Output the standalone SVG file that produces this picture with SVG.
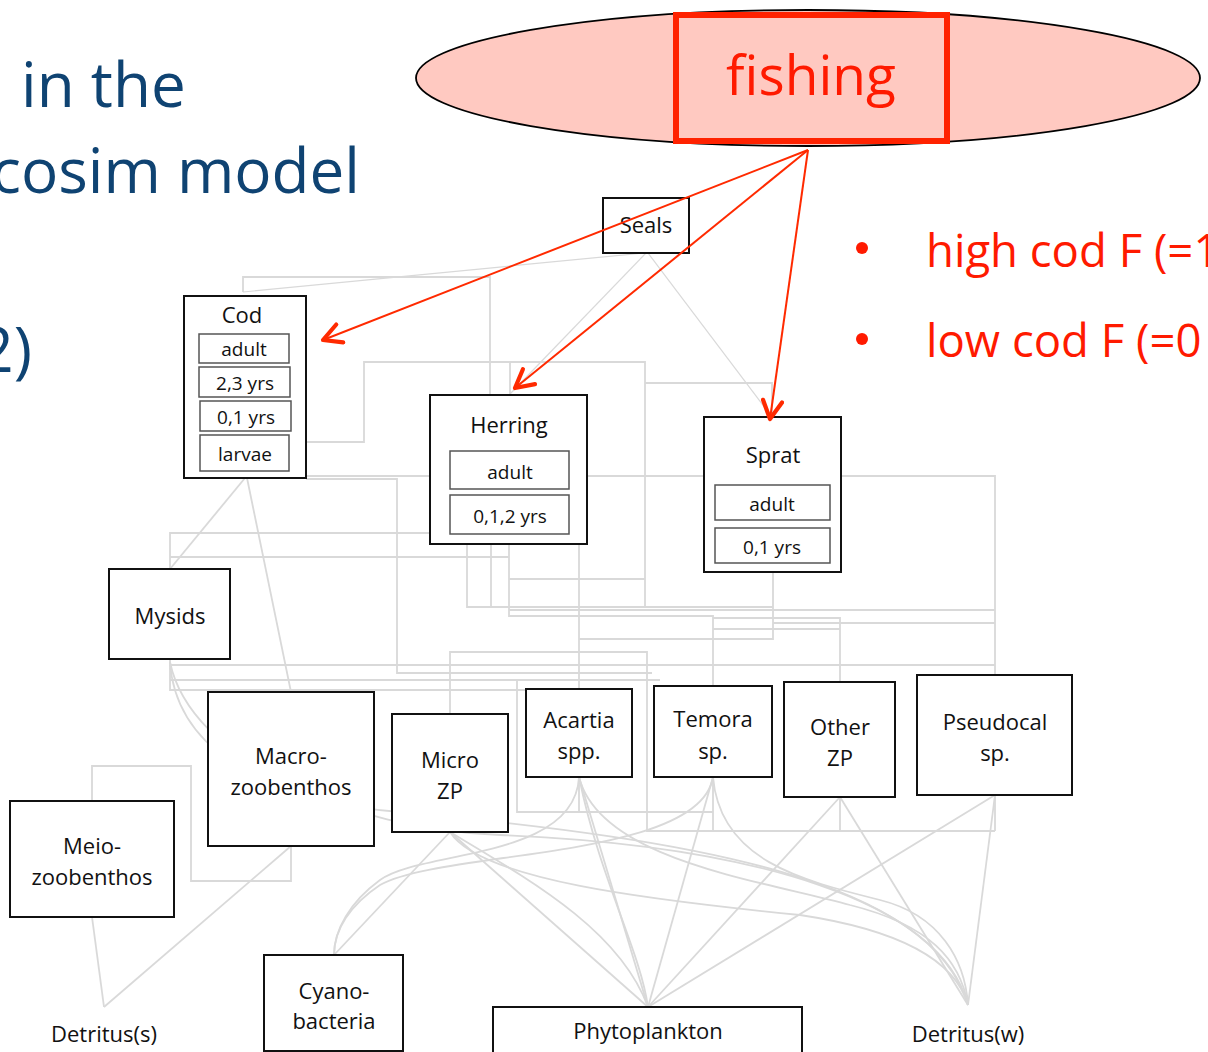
<svg xmlns="http://www.w3.org/2000/svg" width="1208" height="1052" viewBox="0 0 1208 1052">
<defs>
<style>
.title{font-family:"Open Sans","Liberation Sans",sans-serif;font-size:62px;fill:#0f4372}
.red{font-family:"Open Sans","Liberation Sans",sans-serif;fill:#ff1a00}
.box{fill:#fff;stroke:#111;stroke-width:2}
.sub{fill:#fff;stroke:#555;stroke-width:1.5}
.lbl{font-family:"Open Sans","Liberation Sans",sans-serif;font-size:22px;fill:#111;text-anchor:middle}
.slbl{font-family:"Open Sans","Liberation Sans",sans-serif;font-size:19px;fill:#111;text-anchor:middle}
.con path,.con line{fill:none;stroke:#d9d9d9;stroke-width:1.8}
.con .thin{stroke-width:1.2}
.arrow{fill:none;stroke:#ff2a00;stroke-width:2;marker-end:url(#ah)}
</style>
<marker id="ah" markerUnits="userSpaceOnUse" markerWidth="24" markerHeight="24" viewBox="-2 -10 20 20" refX="15" refY="0" orient="auto">
<path d="M0,-8 L15,0 L0,8" fill="none" stroke="#ff2a00" stroke-width="3.5" stroke-linecap="round" stroke-linejoin="round"/>
</marker>
</defs>
<rect width="1208" height="1052" fill="#fff"/>

<g id="title">
<text class="title" x="21" y="107">in the</text>
<text class="title" x="360" y="193" text-anchor="end">cosim model</text>
<text class="title" x="32" y="372" text-anchor="end">2)</text>
</g>

<g id="bullets">
<circle cx="862" cy="248" r="6" fill="#ff1a00"/>
<text class="red" x="926" y="267" font-size="45.5">high cod F (=1</text>
<circle cx="862" cy="339" r="6" fill="#ff1a00"/>
<text class="red" x="926" y="357" font-size="45.5">low cod F (=0</text>
</g>

<g id="connectors" class="con">
<path class="thin" d="M644,253 L243,292"/>
<path d="M243,292 L243,277 L490,277 L490,395"/>
<path class="thin" d="M646,253 L510,394"/>
<path class="thin" d="M648,253 L772,417"/>
<path d="M306,442 L364,442 L364,362 L645,362 L645,607"/>
<path d="M510,395 L510,362"/>
<path d="M509,579 L645,579"/>
<path d="M645,383 L772,383 L772,417"/>
<path d="M306,476 L995,476 L995,675"/>
<path d="M306,479 L397,479 L397,673 L652,673"/>
<path d="M245,478 L170,569"/>
<path d="M247,478 L291,692"/>
<path d="M170,569 L170,533 L430,533"/>
<path d="M170,557 L509,557"/>
<path d="M467,545 L467,607 L773,607"/>
<path d="M491,545 L491,607"/>
<path d="M509,545 L509,616 L713,616 L713,686"/>
<path d="M579,545 L579,689"/>
<path d="M509,610 L995,610"/>
<path d="M773,572 L773,639 L579,639"/>
<path d="M713,618 L840,618 L840,682"/>
<path d="M773,623 L995,623"/>
<path d="M713,629 L840,629"/>
<path d="M170,659 L170,690 L600,690"/>
<path d="M170,665 L995,665"/>
<path d="M170,680 L660,680"/>
<path d="M450,714 L450,652 L647,652 L647,831 L995,831"/>
<path d="M517,680 L517,812 L713,812"/>
<path d="M579,777 L579,812"/>
<path d="M713,777 L713,831"/>
<path d="M840,797 L840,831"/>
<path d="M995,795 L995,831"/>
<path d="M92,801 L92,766 L191,766 L191,881 L291,881 L291,846"/>
<path d="M291,846 L104,1007"/>
<path d="M92,917 L104,1007"/>
<path d="M450,832 L334,955"/>
<path d="M450,832 L648,1007"/>
<path d="M579,777 L648,1007"/>
<path d="M713,777 L648,1007"/>
<path d="M840,797 L648,1007"/>
<path d="M995,795 L648,1007"/>
<path d="M840,797 L968,1005"/>
<path d="M995,795 L968,1005"/>
<path d="M579,777 C575,860 420,850 380,880 C350,902 334,930 334,955"/>
<path d="M713,777 C700,860 440,850 380,885 C350,905 334,930 334,955"/>
<path d="M579,777 C600,880 640,950 648,1007"/>
<path d="M450,832 C530,880 620,930 648,1007"/>
<path d="M579,777 C600,860 760,880 850,905 C930,925 960,960 968,1005"/>
<path d="M713,777 C720,860 800,880 880,900 C940,915 965,960 968,1005"/>
<path d="M450,832 C480,880 650,900 800,915 C900,930 955,960 968,1005"/>
<path d="M170,662 C175,740 250,800 400,812 C700,840 930,880 968,1005"/>
<path d="M170,662 C190,760 350,830 500,835 C750,845 940,900 968,1005"/>
</g>

<g id="seals"><rect class="box" x="603" y="198" width="86" height="55"/><text class="lbl" x="646" y="233">Seals</text></g>

<g id="cod">
<rect class="box" x="184" y="296" width="122" height="182"/>
<text class="lbl" x="242" y="323">Cod</text>
<rect class="sub" x="199" y="334" width="90" height="29"/><text class="slbl" x="244" y="356">adult</text>
<rect class="sub" x="199" y="367" width="91" height="30"/><text class="slbl" x="245" y="390">2,3 yrs</text>
<rect class="sub" x="200" y="401" width="91" height="30"/><text class="slbl" x="246" y="424">0,1 yrs</text>
<rect class="sub" x="200" y="435" width="89" height="36"/><text class="slbl" x="245" y="461">larvae</text>
</g>

<g id="herring">
<rect class="box" x="430" y="395" width="157" height="149"/>
<text class="lbl" x="509" y="433">Herring</text>
<rect class="sub" x="450" y="451" width="119" height="38"/><text class="slbl" x="510" y="479">adult</text>
<rect class="sub" x="450" y="495" width="119" height="39"/><text class="slbl" x="510" y="523">0,1,2 yrs</text>
</g>

<g id="sprat">
<rect class="box" x="704" y="417" width="137" height="155"/>
<text class="lbl" x="773" y="463">Sprat</text>
<rect class="sub" x="715" y="485" width="115" height="35"/><text class="slbl" x="772" y="511">adult</text>
<rect class="sub" x="715" y="528" width="115" height="35"/><text class="slbl" x="772" y="554">0,1 yrs</text>
</g>

<g id="mysids"><rect class="box" x="109" y="569" width="121" height="90"/><text class="lbl" x="170" y="624">Mysids</text></g>
<g id="macrozoobenthos"><rect class="box" x="208" y="692" width="166" height="154"/><text class="lbl" x="291" y="764">Macro-</text><text class="lbl" x="291" y="795">zoobenthos</text></g>
<g id="microzp"><rect class="box" x="392" y="714" width="116" height="118"/><text class="lbl" x="450" y="768">Micro</text><text class="lbl" x="450" y="799">ZP</text></g>
<g id="acartia"><rect class="box" x="526" y="689" width="106" height="88"/><text class="lbl" x="579" y="728">Acartia</text><text class="lbl" x="579" y="759">spp.</text></g>
<g id="temora"><rect class="box" x="654" y="686" width="118" height="91"/><text class="lbl" x="713" y="727">Temora</text><text class="lbl" x="713" y="759">sp.</text></g>
<g id="otherzp"><rect class="box" x="784" y="682" width="111" height="115"/><text class="lbl" x="840" y="735">Other</text><text class="lbl" x="840" y="766">ZP</text></g>
<g id="pseudocal"><rect class="box" x="917" y="675" width="155" height="120"/><text class="lbl" x="995" y="730">Pseudocal</text><text class="lbl" x="995" y="761">sp.</text></g>
<g id="meiozoobenthos"><rect class="box" x="10" y="801" width="164" height="116"/><text class="lbl" x="92" y="854">Meio-</text><text class="lbl" x="92" y="885">zoobenthos</text></g>
<g id="cyanobacteria"><rect class="box" x="264" y="955" width="139" height="96"/><text class="lbl" x="334" y="999">Cyano-</text><text class="lbl" x="334" y="1029">bacteria</text></g>
<g id="phytoplankton"><rect class="box" x="493" y="1007" width="309" height="46"/><text class="lbl" x="648" y="1039">Phytoplankton</text></g>
<g id="detritus-s"><text class="lbl" x="104" y="1042">Detritus(s)</text></g>
<g id="detritus-w"><text class="lbl" x="968" y="1042">Detritus(w)</text></g>

<g id="fishing">
<ellipse cx="808" cy="78" rx="392" ry="68" fill="#ffc9c1" stroke="#000" stroke-width="1.8"/>
<rect x="676" y="15" width="271" height="126" fill="#ffc9c1" stroke="#ff2200" stroke-width="6"/>
<text class="red" x="811" y="95" font-size="55" text-anchor="middle">fishing</text>
</g>

<g id="fishing-arrows">
<path class="arrow" d="M808,150 L323,340"/>
<path class="arrow" d="M808,150 L515,388"/>
<path class="arrow" d="M808,150 L770,419"/>
</g>
</svg>
